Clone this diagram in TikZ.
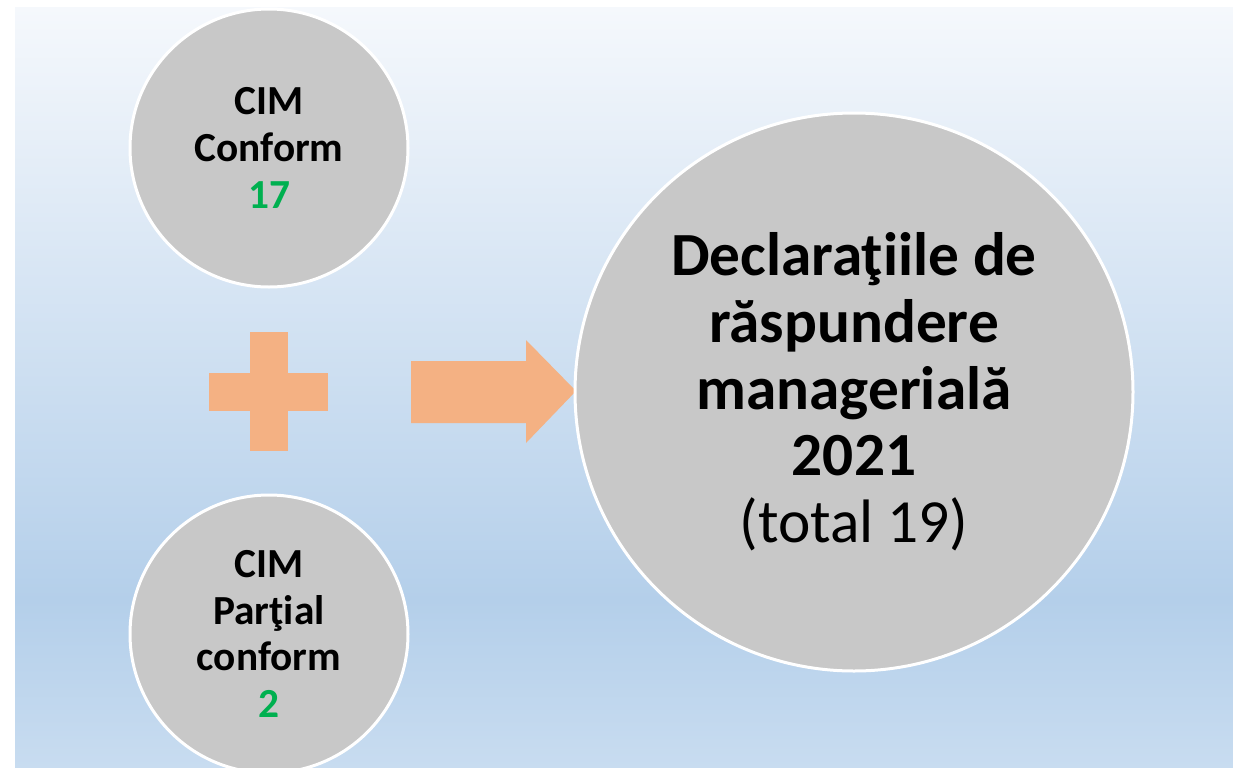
\documentclass[tikz,border=0pt]{standalone}
\usepackage{fontspec}
\setmainfont{Carlito}
\usepackage{xcolor}
\usepackage{tikz}
\usetikzlibrary{shapes}
\definecolor{disc}{HTML}{C8C8C8}
\definecolor{peach}{HTML}{F4B183}
\definecolor{okgreen}{HTML}{00B050}
\definecolor{skytop}{HTML}{F5F8FC}
\definecolor{skymid}{HTML}{B4CFEA}
\definecolor{skylow}{HTML}{C8DCF0}
\tikzset{ small_disc/.style = {circle, fill=disc, draw=white, line width=2.25pt, minimum size=208.5pt, inner sep=0pt, align=center, font=\fontsize{31}{35}\selectfont\bfseries} }
\tikzset{ big_disc/.style = {small_disc, minimum size=418.5pt, font=\fontsize{46}{50}\selectfont\bfseries} }
\tikzset{ block/.style = {fill=peach} }

\begin{document}
\begin{tikzpicture}[x=0.75pt, y=-0.75pt]
    \useasboundingbox (0,0) rectangle (1233,768);
    \clip (0,0) rectangle (1233,768);
    \shade[top color=skytop, bottom color=skymid] (15,7) rectangle (1233,600);
    \shade[top color=skymid, bottom color=skylow] (15,599.5) rectangle (1233,768);
    \fill[block] (250,332) rectangle (288,451);
    \fill[block] (209,373) rectangle (328,411);
    \fill[block] (411,361) -- (526,361) -- (526,340) -- (576,391) -- (526,443) -- (526,423) -- (411,423) -- cycle;
    \node[small_disc] (conf) at (269,148) {CIM\\Conform\\\textcolor{okgreen}{17}};
    \node[small_disc] (part) at (269,634) {CIM\\Parţial\\conform\\\textcolor{okgreen}{2}};
    \node[big_disc] (decl) at (854,392) {Declaraţiile de\\răspundere\\managerială\\2021\\{\mdseries (total 19)}};
\end{tikzpicture}
\end{document}
